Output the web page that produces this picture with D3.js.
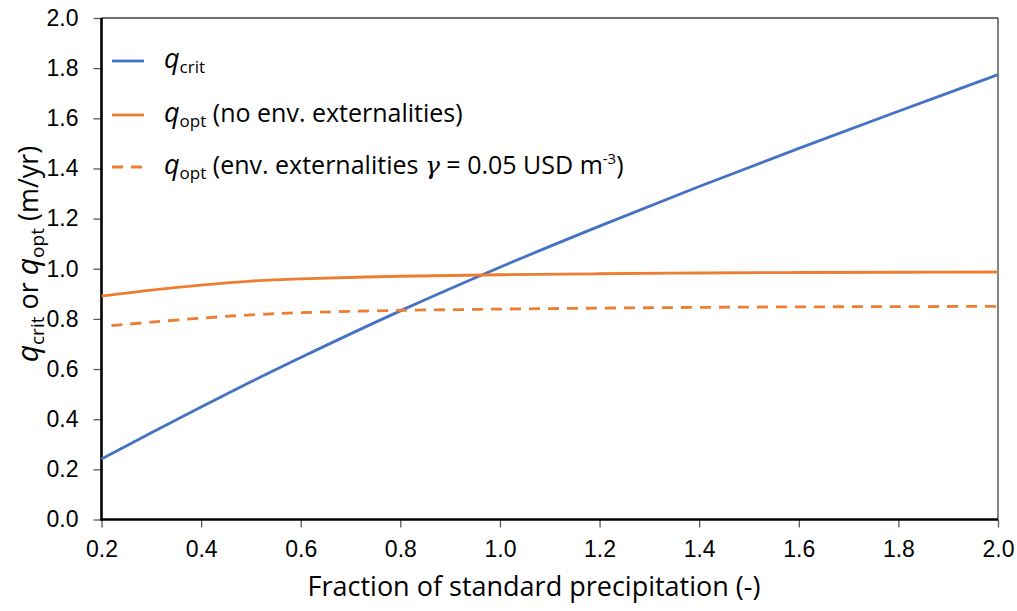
<!DOCTYPE html>
<html>
    <head>
        <meta charset="utf-8" />
        <script src="https://d3js.org/d3.v7.min.js"></script>
        <style type="text/css">
            body {
                margin: 0;
                background: white;
            }
            svg#mainSvg {
                font-family: "Open Sans", "Noto Sans", sans-serif;
            }
            .tick text {
                font-size: 23px;
                fill: #000;
            }
        </style>
    </head>

    <body>
        <svg id="mainSvg" width="1017" height="611"></svg>

        <script type="text/javascript">
            // Values
            const fraction = [0.2, 0.3, 0.4, 0.5, 0.6, 0.8, 1.0, 1.2, 1.4, 1.6, 1.8, 2.0];
            const qCrit = [0.241, 0.346, 0.449, 0.549, 0.646, 0.832, 1.006, 1.17, 1.328, 1.48, 1.628, 1.774];
            const qOpt = [0.891, 0.915, 0.935, 0.951, 0.96, 0.97, 0.976, 0.98, 0.983, 0.985, 0.986, 0.987];
            const fractionEnv = [0.22, 0.3, 0.4, 0.5, 0.6, 0.8, 1.0, 1.2, 1.4, 1.6, 1.8, 2.0];
            const qOptEnv = [0.773, 0.787, 0.803, 0.816, 0.825, 0.834, 0.839, 0.843, 0.846, 0.848, 0.849, 0.85];

            const xTicks = [0.2, 0.4, 0.6, 0.8, 1.0, 1.2, 1.4, 1.6, 1.8, 2.0];
            const yTicks = [0, 0.2, 0.4, 0.6, 0.8, 1.0, 1.2, 1.4, 1.6, 1.8, 2.0];

            const blue = "#4472C4",
                orange = "#ED7D31";
        </script>

        <script type="text/javascript">
            const svg = d3.select("#mainSvg");

            const x = d3.scaleLinear().domain([0.2, 2.0]).range([101.5, 998]);
            const y = d3.scaleLinear().domain([0, 2.0]).range([519.5, 18]);

            // frame: thin top and right edges
            svg.append("line")
                .attr("x1", x(0.2)).attr("x2", x(2.0))
                .attr("y1", y(2.0)).attr("y2", y(2.0))
                .attr("stroke", "#404040").attr("stroke-width", 1.3);
            svg.append("line")
                .attr("x1", x(2.0)).attr("x2", x(2.0))
                .attr("y1", y(2.0)).attr("y2", y(0))
                .attr("stroke", "#404040").attr("stroke-width", 1.3);

            // axes
            const xAxis = d3.axisBottom(x)
                .tickValues(xTicks)
                .tickFormat(d3.format(".1f"))
                .tickSize(8)
                .tickPadding(13);
            const gx = svg.append("g")
                .attr("transform", "translate(0," + y(0) + ")")
                .call(xAxis);
            gx.select(".domain").remove();
            gx.selectAll(".tick line").attr("stroke", "#595959").attr("stroke-width", 1.3);

            const yAxis = d3.axisLeft(y)
                .tickValues(yTicks)
                .tickFormat(d3.format(".1f"))
                .tickSize(8)
                .tickPadding(15);
            const gy = svg.append("g")
                .attr("transform", "translate(" + x(0.2) + ",0)")
                .call(yAxis);
            gy.select(".domain").remove();
            gy.selectAll(".tick line").attr("stroke", "#595959").attr("stroke-width", 1.3);

            // thick black axis lines
            svg.append("line")
                .attr("x1", x(0.2)).attr("x2", x(2.0))
                .attr("y1", y(0)).attr("y2", y(0))
                .attr("stroke", "#000").attr("stroke-width", 2.6);
            svg.append("line")
                .attr("x1", x(0.2)).attr("x2", x(0.2))
                .attr("y1", y(2.0)).attr("y2", y(0) + 1.3)
                .attr("stroke", "#000").attr("stroke-width", 2.6);

            // series
            const line = d3.line()
                .x((d) => x(d[0]))
                .y((d) => y(d[1]))
                .curve(d3.curveCatmullRom.alpha(0.5));

            const series = [
                { xs: fraction, ys: qCrit, color: blue, dash: null },
                { xs: fraction, ys: qOpt, color: orange, dash: null },
                { xs: fractionEnv, ys: qOptEnv, color: orange, dash: "11,8" },
            ];

            svg.append("g")
                .selectAll("path")
                .data(series)
                .enter()
                .append("path")
                .attr("d", (s) => line(s.xs.map((v, i) => [v, s.ys[i]])))
                .attr("fill", "none")
                .attr("stroke", (s) => s.color)
                .attr("stroke-width", 2.8)
                .attr("stroke-dasharray", (s) => s.dash);

            // legend
            const legendY = [61, 115, 167];
            const lg = svg.append("g");
            series.forEach((s, i) => {
                lg.append("line")
                    .attr("x1", 112).attr("x2", 144)
                    .attr("y1", legendY[i]).attr("y2", legendY[i])
                    .attr("stroke", s.color)
                    .attr("stroke-width", 2.8)
                    .attr("stroke-dasharray", s.dash);
            });

            function qLabel(sel, sub) {
                sel.append("tspan").attr("font-style", "italic").attr("font-size", 27).text("q");
                sel.append("tspan").attr("font-size", 17).attr("dy", 5).text(sub);
                return sel;
            }

            const t1 = lg.append("text").attr("x", 164).attr("y", legendY[0] + 7).attr("font-size", 25);
            qLabel(t1, "crit");

            const t2 = lg.append("text").attr("x", 164).attr("y", legendY[1] + 7).attr("font-size", 25);
            qLabel(t2, "opt");
            t2.append("tspan").attr("dy", -5).text(" (no env. externalities)");

            const t3 = lg.append("text").attr("x", 164).attr("y", legendY[2] + 7).attr("font-size", 25);
            qLabel(t3, "opt");
            t3.append("tspan").attr("dy", -5).text(" (env. externalities ");
            t3.append("tspan").attr("font-family", "DejaVu Serif").attr("font-style", "italic").text("γ");
            t3.append("tspan").text(" = 0.05 USD m");
            t3.append("tspan").attr("font-size", 15).attr("dy", -10).text("-3");
            t3.append("tspan").attr("dy", 10).text(")");

            // axis titles
            svg.append("text")
                .attr("x", 534)
                .attr("y", 596)
                .attr("text-anchor", "middle")
                .attr("font-size", 27)
                .text("Fraction of standard precipitation (-)");

            const yt = svg.append("text")
                .attr("transform", "translate(38,254) rotate(-90)")
                .attr("text-anchor", "middle")
                .attr("font-size", 27);
            yt.append("tspan").attr("font-style", "italic").attr("font-size", 30).text("q");
            yt.append("tspan").attr("font-size", 19).attr("dy", 6).text("crit");
            yt.append("tspan").attr("dy", -6).text(" or ");
            yt.append("tspan").attr("font-style", "italic").attr("font-size", 30).text("q");
            yt.append("tspan").attr("font-size", 19).attr("dy", 6).text("opt");
            yt.append("tspan").attr("dy", -6).text(" (m/yr)");
        </script>
    </body>
</html>
